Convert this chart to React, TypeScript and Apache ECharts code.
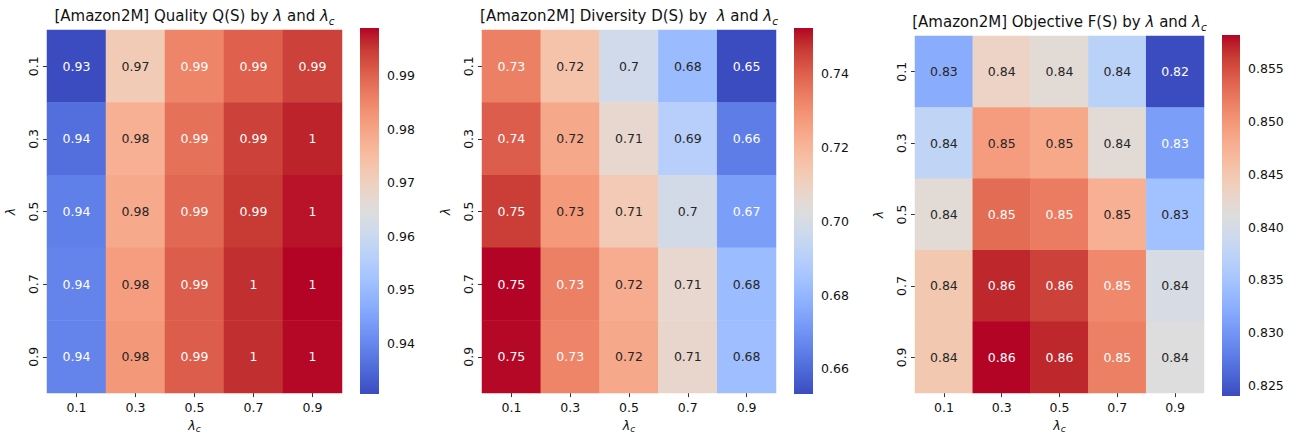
import React, { useEffect, useRef } from "react";
import * as echarts from "echarts";

// ---------- data ----------
const lambdaCLabels = ["0.1", "0.3", "0.5", "0.7", "0.9"];
const lambdaLabels = ["0.1", "0.3", "0.5", "0.7", "0.9"];

// rows: λ = 0.1 .. 0.9 ; columns: λc = 0.1 .. 0.9
const qualityRows = [
  [0.9305, 0.9715, 0.9852, 0.9903, 0.9941],
  [0.936, 0.9777, 0.988, 0.9941, 0.9968],
  [0.9387, 0.979, 0.9893, 0.9948, 0.9979],
  [0.9394, 0.9812, 0.9907, 0.9958, 0.9989],
  [0.9394, 0.9822, 0.9907, 0.9958, 0.9986],
];
const diversityRows = [
  [0.7335, 0.7156, 0.6978, 0.6819, 0.6532],
  [0.7404, 0.7236, 0.7067, 0.6899, 0.6645],
  [0.7459, 0.7275, 0.7127, 0.6988, 0.673],
  [0.7523, 0.7335, 0.7226, 0.7067, 0.682],
  [0.752, 0.7325, 0.7236, 0.7072, 0.6829],
];
const objectiveRows = [
  [0.8322, 0.8432, 0.8418, 0.837, 0.824],
  [0.8377, 0.8495, 0.8484, 0.8418, 0.8308],
  [0.8418, 0.8531, 0.852, 0.8476, 0.8346],
  [0.8449, 0.857, 0.8558, 0.851, 0.8401],
  [0.8449, 0.8582, 0.857, 0.8517, 0.8411],
];

const qualityTicks = [0.94, 0.95, 0.96, 0.97, 0.98, 0.99];
const diversityTicks = [0.66, 0.68, 0.7, 0.72, 0.74];
const objectiveTicks = [0.825, 0.83, 0.835, 0.84, 0.845, 0.85, 0.855];

// ---------- colormap (coolwarm) ----------
const COOLWARM = [
  "#3b4cc0", "#445acc", "#4d68d7", "#5775e1", "#6282ea", "#6c8ef1", "#779af7", "#82a5fb",
  "#8db0fe", "#98b9ff", "#a3c2ff", "#aec9fd", "#b8d0f9", "#c2d5f4", "#ccd9ee", "#d5dbe5",
  "#dddddd", "#e5d8d1", "#ecd3c5", "#f1ccb8", "#f5c4ac", "#f7bba0", "#f7b194", "#f6a687",
  "#f49a7b", "#f18d6f", "#ec7f63", "#e57058", "#de604d", "#d44e41", "#c93d36", "#bd242b",
  "#b40426",
];

function hexToRgb(h: string) {
  return [parseInt(h.slice(1, 3), 16), parseInt(h.slice(3, 5), 16), parseInt(h.slice(5, 7), 16)];
}
function coolwarmAt(t: number) {
  const tt = Math.max(0, Math.min(1, t)) * (COOLWARM.length - 1);
  const i = Math.min(COOLWARM.length - 2, Math.floor(tt));
  const f = tt - i;
  const a = hexToRgb(COOLWARM[i]);
  const b = hexToRgb(COOLWARM[i + 1]);
  return [0, 1, 2].map((k) => a[k] + (b[k] - a[k]) * f);
}
function textColorFor(t: number) {
  const rgb = coolwarmAt(t).map((c) => {
    const v = c / 255;
    return v <= 0.03928 ? v / 12.92 : Math.pow((v + 0.055) / 1.055, 2.4);
  });
  const lum = 0.2126 * rgb[0] + 0.7152 * rgb[1] + 0.0722 * rgb[2];
  return lum > 0.408 ? "#262626" : "#ffffff";
}
function fmt2g(v: number) {
  return String(parseFloat(v.toPrecision(2)));
}

const FONT = "DejaVu Sans";
const TXT = "#111111";

const panels = [
  {
    title: "{n|[Amazon2M] Quality Q(S) by }{i|λ}{n| and }{i|λ}{s|c}",
    rows: qualityRows,
    ticks: qualityTicks,
    decimals: 2,
    grid: { left: 47, top: 30, width: 295, height: 364 },
    bar: { left: 360, top: 28, width: 19, height: 366 },
    titleX: 194.5,
    titleY: 16,
  },
  {
    title: "{n|[Amazon2M] Diversity D(S) by  }{i|λ}{n| and }{i|λ}{s|c}",
    rows: diversityRows,
    ticks: diversityTicks,
    decimals: 2,
    grid: { left: 482, top: 30, width: 294, height: 364 },
    bar: { left: 794, top: 28, width: 19, height: 366 },
    titleX: 629,
    titleY: 16,
  },
  {
    title: "{n|[Amazon2M] Objective F(S) by }{i|λ}{n| and }{i|λ}{s|c}",
    rows: objectiveRows,
    ticks: objectiveTicks,
    decimals: 3,
    grid: { left: 915, top: 36, width: 289, height: 360 },
    bar: { left: 1222, top: 35, width: 18, height: 361 },
    titleX: 1059.5,
    titleY: 22,
  },
];

const titleRich = {
  n: { fontSize: 15, fontFamily: FONT, color: TXT, lineHeight: 20, verticalAlign: "middle" },
  i: { fontSize: 15, fontFamily: FONT, fontStyle: "italic", color: TXT, lineHeight: 20, verticalAlign: "middle" },
  s: { fontSize: 10.5, fontFamily: FONT, fontStyle: "italic", color: TXT, lineHeight: 10, verticalAlign: "bottom" },
};
const axisNameRich = {
  i: { fontSize: 12.5, fontFamily: FONT, fontStyle: "italic", color: TXT, lineHeight: 15, verticalAlign: "middle" },
  s: { fontSize: 9, fontFamily: FONT, fontStyle: "italic", color: TXT, lineHeight: 8, verticalAlign: "bottom" },
};

function buildOption() {
  const grid: any[] = [];
  const xAxis: any[] = [];
  const yAxis: any[] = [];
  const series: any[] = [];
  const visualMap: any[] = [];
  const graphic: any[] = [];

  panels.forEach((p, i) => {
    const flat = p.rows.flat();
    const vmin = Math.min(...flat);
    const vmax = Math.max(...flat);
    const hg = 2 * i;
    const bg = 2 * i + 1;
    grid.push({ ...p.grid, containLabel: false });
    grid.push({ ...p.bar, containLabel: false });

    xAxis.push({
      type: "category",
      gridIndex: hg,
      data: lambdaCLabels,
      position: "bottom",
      axisLine: { show: false },
      axisTick: { show: true, alignWithLabel: true, length: 4, lineStyle: { color: "#333" } },
      axisLabel: { fontSize: 12.5, fontFamily: FONT, color: TXT, margin: 8 },
      splitLine: { show: false },
      name: "{i|λ}{s|c}",
      nameLocation: "middle",
      nameGap: 20,
      nameTextStyle: { rich: axisNameRich },
    });
    xAxis.push({ type: "value", gridIndex: bg, min: 0, max: 1, show: false });

    yAxis.push({
      type: "category",
      gridIndex: hg,
      data: lambdaLabels,
      inverse: true,
      axisLine: { show: false },
      axisTick: { show: true, alignWithLabel: true, length: 4, lineStyle: { color: "#333" } },
      axisLabel: { fontSize: 12.5, fontFamily: FONT, color: TXT, rotate: 90, margin: 7 },
      splitLine: { show: false },
      name: "λ",
      nameLocation: "middle",
      nameGap: 30,
      nameRotate: 90,
      nameTextStyle: { fontSize: 12.5, fontFamily: FONT, fontStyle: "italic", color: TXT },
    });
    yAxis.push({
      type: "value",
      gridIndex: bg,
      min: vmin,
      max: vmax,
      position: "right",
      axisLine: { show: false },
      splitLine: { show: false },
      axisTick: { show: true, length: 4, customValues: p.ticks, lineStyle: { color: "#333" } },
      axisLabel: {
        customValues: p.ticks,
        formatter: (v: number) => v.toFixed(p.decimals),
        fontSize: 12.5,
        fontFamily: FONT,
        color: TXT,
        margin: 8,
      },
    });

    const data = p.rows.flatMap((row, yi) =>
      row.map((v, xi) => ({
        value: [xi, yi, v],
        label: { color: textColorFor((v - vmin) / (vmax - vmin)) },
      }))
    );
    series.push({
      type: "heatmap",
      xAxisIndex: hg,
      yAxisIndex: hg,
      data,
      itemStyle: { borderWidth: 0 },
      emphasis: { disabled: true },
      label: {
        show: true,
        fontSize: 12.5,
        fontFamily: FONT,
        formatter: (prm: any) => fmt2g(prm.value[2]),
      },
    });
    visualMap.push({
      type: "continuous",
      show: false,
      seriesIndex: series.length - 1,
      dimension: 2,
      min: vmin,
      max: vmax,
      inRange: { color: COOLWARM },
    });

    const stops = COOLWARM.map((c, k) => ({ offset: k / (COOLWARM.length - 1), color: c }));
    series.push({
      type: "custom",
      xAxisIndex: bg,
      yAxisIndex: bg,
      silent: true,
      clip: false,
      data: [[0, vmin, 1, vmax]],
      renderItem: (_params: any, api: any) => {
        const a = api.coord([api.value(0), api.value(1)]);
        const b = api.coord([api.value(2), api.value(3)]);
        return {
          type: "rect",
          shape: { x: a[0], y: b[1], width: b[0] - a[0], height: a[1] - b[1] },
          style: { fill: new echarts.graphic.LinearGradient(0, 1, 0, 0, stops) },
        };
      },
    });

    graphic.push({
      type: "text",
      x: p.titleX,
      y: p.titleY,
      style: {
        text: p.title,
        rich: titleRich,
        align: "center",
        verticalAlign: "middle",
        fontSize: 15,
        fontFamily: FONT,
        fill: TXT,
      },
    });
  });

  return {
    animation: false,
    backgroundColor: "#ffffff",
    textStyle: { fontFamily: FONT },
    grid,
    xAxis,
    yAxis,
    visualMap,
    series,
    graphic,
  };
}

export default function App() {
  const ref = useRef<HTMLDivElement>(null);
  useEffect(() => {
    if (!ref.current) return;
    const chart = echarts.init(ref.current, undefined, { renderer: "svg" });
    chart.setOption(buildOption() as any);
    return () => chart.dispose();
  }, []);
  return (
    <div
      ref={ref}
      style={{ position: "fixed", left: 0, top: 0, width: 1297, height: 438, background: "#fff" }}
    />
  );
}
